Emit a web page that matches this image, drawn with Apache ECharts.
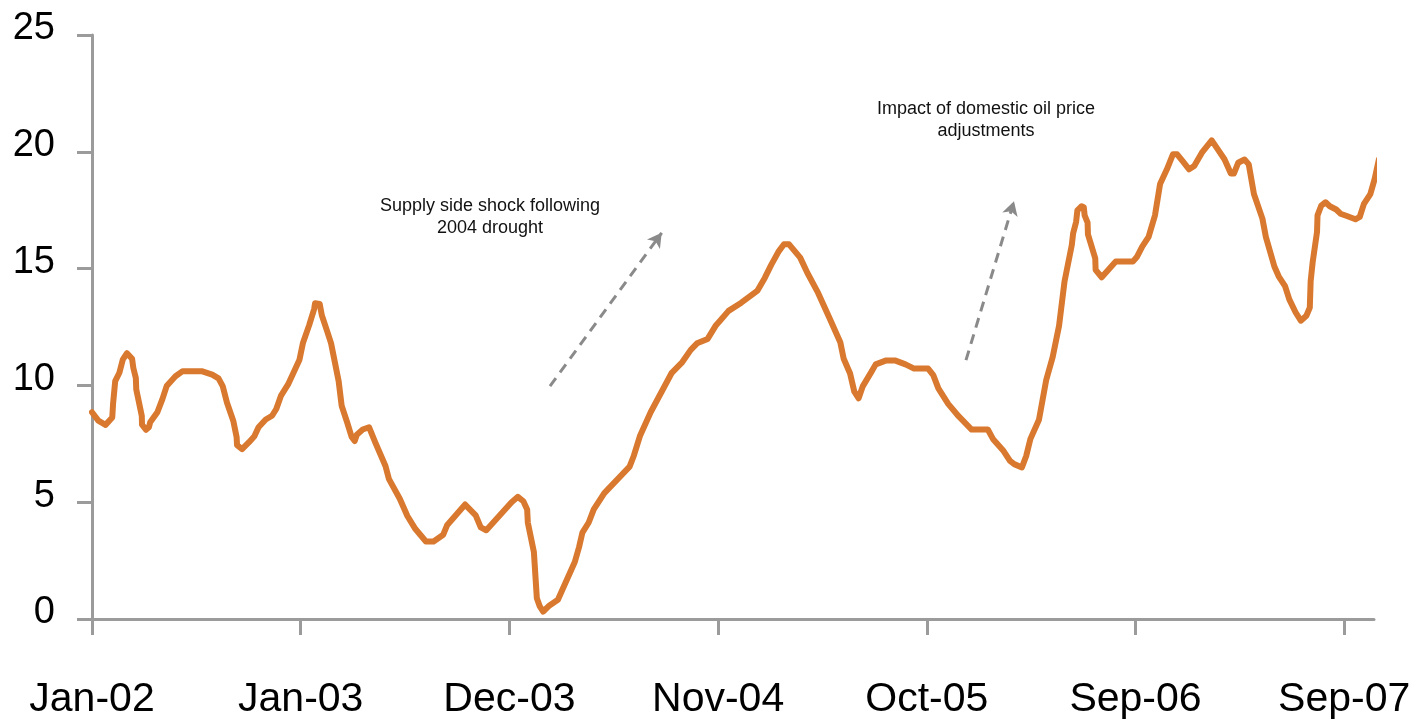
<!DOCTYPE html>
<html>
<head>
<meta charset="utf-8">
<script src="https://cdn.jsdelivr.net/npm/echarts@6/dist/echarts.min.js"></script>
<style>
  html, body { margin: 0; padding: 0; background: #fff; }
  #chart { width: 1414px; height: 720px; }
</style>
</head>
<body>
<div id="chart"></div>
<script>
// x positions in period units (34 units between consecutive date labels)
const xs = [
  0, 1.03, 2.20, 3.30, 3.43, 3.78, 4.46, 5.01, 5.70, 6.53, 6.73, 7.14, 7.21, 8.11, 8.15, 8.79, 9.27, 9.48,
  10.65, 11.47, 12.16, 13.60, 14.77, 17.86, 19.58, 20.61, 21.29, 21.98, 23.01, 23.56, 23.63, 24.45, 25.62,
  26.45, 27.13, 28.30, 29.33, 30.02, 30.77, 31.94, 33.80, 34.35, 35.38, 36.20, 36.34, 37.09, 37.44, 38.33,
  38.95, 40.18, 40.67, 41.56, 42.31, 42.79, 43.14, 44.10, 45.13, 46.16, 47.81, 48.36, 50.14, 51.38, 52.69,
  54.40, 55.64, 57.22, 57.84, 60.79, 62.51, 63.33, 64.23, 68.35, 69.38, 70.27, 70.89, 71.00, 71.99, 72.47,
  72.95, 73.50, 74.53, 75.90, 78.65, 79.34, 79.89, 80.92, 81.74, 83.46, 87.58, 88.27, 89.30, 91.01, 94.45,
  96.17, 97.54, 98.57, 100.29, 101.66,
  102.31, 103.70, 105.78, 108.42, 109.60, 110.65, 111.90, 112.73, 113.56, 115.37, 116.55, 118.29, 120.23,
  121.90, 122.46, 123.50, 124.19, 124.89, 125.58, 126.97, 127.67, 129.40, 130.79, 132.53, 133.92, 136.21,
  137.05, 137.88, 139.48, 141.21, 143.30, 145.94, 146.77, 148.51, 149.55, 150.24, 151.49, 152.19, 152.88,
  154.27, 155.45, 156.50, 157.54, 158.44, 159.62, 159.83, 160.32, 160.53, 161.22, 161.57, 161.71, 162.19,
  162.25, 163.44, 163.50, 164.49, 166.78, 169.56, 170.25, 171.09, 172.13, 173.17, 174.00, 175.11, 176.09,
  176.78, 177.68, 178.73, 179.56, 180.81, 182.41, 183.24, 184.49, 185.53, 186.02, 186.72, 187.76, 188.45,
  189.29, 190.67, 191.23, 192.62, 193.32, 194.36, 195.05, 196.09, 196.93, 197.83, 198.39, 198.53, 198.87,
  199.57, 199.65, 200.26, 200.96, 201.65, 202.69, 203.39, 204.43, 205.82, 206.52, 207.21, 208.25, 208.95,
  209.64
];
const values = [
  8.85, 8.49, 8.31, 8.63, 9.20, 10.18, 10.54, 11.10, 11.38, 11.14, 10.75, 10.32, 9.83, 8.70, 8.32, 8.10, 8.21, 8.42,
  8.85, 9.41, 9.97, 10.39, 10.61, 10.61, 10.46, 10.30, 9.97, 9.27, 8.49, 7.79, 7.44, 7.27, 7.58,
  7.82, 8.21, 8.54, 8.70, 8.99, 9.55, 10.04, 11.10, 11.80, 12.58, 13.28, 13.52, 13.49, 13.00, 12.30,
  11.80, 10.18, 9.13, 8.42, 7.79, 7.62, 7.89, 8.11, 8.21, 7.55, 6.55, 6.00, 5.15, 4.41, 3.85,
  3.32, 3.32, 3.61, 4.01, 4.90, 4.44, 3.92, 3.80, 5.00, 5.23, 5.04, 4.69, 4.13, 2.86, 0.89,
  0.54, 0.32, 0.58, 0.82, 2.44, 3.07, 3.70, 4.13, 4.69, 5.39, 6.52, 6.99, 7.86, 8.85, 10.54,
  11.00, 11.52, 11.80, 11.99, 12.58,
  12.77, 13.19, 13.54, 14.06, 14.60, 15.16, 15.75, 16.04, 16.04, 15.47, 14.81, 13.96, 12.83,
  11.85, 11.14, 10.51, 9.73, 9.45, 9.97, 10.58, 10.90, 11.07, 11.07, 10.90, 10.72, 10.72,
  10.44, 9.87, 9.21, 8.67, 8.11, 8.11, 7.71, 7.19, 6.77, 6.63, 6.49, 6.98, 7.71,
  8.53, 10.23, 11.21, 12.55, 14.46, 16.01, 16.50, 17.00, 17.49, 17.67, 17.63, 17.28, 16.97,
  16.46, 15.44, 14.95, 14.63, 15.30, 15.30, 15.51, 15.94, 16.36, 17.28, 18.62, 19.25, 19.89,
  19.89, 19.60, 19.25, 19.39, 19.96, 20.49, 20.17, 19.68, 19.07, 19.07, 19.53, 19.67, 19.46,
  18.19, 17.14, 16.36, 15.09, 14.67, 14.25, 13.68, 13.12, 12.77, 12.98, 13.33, 14.46, 15.30,
  16.57, 17.28, 17.70, 17.84, 17.67, 17.53, 17.35, 17.25, 17.11, 17.21, 17.77, 18.19, 18.83,
  19.67
];
const tickLabels = ['Jan-02', 'Jan-03', 'Dec-03', 'Nov-04', 'Oct-05', 'Sep-06', 'Sep-07'];
const labelStep = 34;
const yTicks = [0, 5, 10, 15, 20, 25];
const annotationTexts = ['Supply side shock following\n2004 drought', 'Impact of domestic oil price\nadjustments'];
// arrows: [startX, startY, endX, endY] in data units
const arrows = [
  [74.61, 9.97, 92.81, 16.53],
  [142.38, 11.08, 150.20, 17.88]
];

const FONT = "'Liberation Sans', Arial, Helvetica, sans-serif";
const AXIS_COLOR = '#9b9b9b';
const LINE_COLOR = '#D9782F';

const seriesData = xs.map((x, i) => [x, values[i]]);
const tickPositions = tickLabels.map((_, i) => i * labelStep);

const chart = echarts.init(document.getElementById('chart'), null, { renderer: 'canvas' });
chart.setOption({
  animation: false,
  backgroundColor: '#ffffff',
  grid: { left: 92, right: 40, top: 35, bottom: 100 },
  xAxis: {
    type: 'value',
    min: 0,
    max: 208.85,
    interval: labelStep,
    splitLine: { show: false },
    axisLine: { show: true, lineStyle: { color: AXIS_COLOR, width: 3 } },
    axisTick: { show: true, inside: false, length: 16, customValues: tickPositions,
                lineStyle: { color: AXIS_COLOR, width: 3 } },
    axisLabel: {
      customValues: tickPositions,
      margin: 60,
      fontFamily: FONT,
      fontSize: 41,
      color: '#000',
      formatter: v => tickLabels[Math.round(v / labelStep)] || ''
    }
  },
  yAxis: {
    type: 'value',
    min: 0,
    max: 25,
    interval: 5,
    splitLine: { show: false },
    axisLine: { show: true, lineStyle: { color: AXIS_COLOR, width: 3 } },
    axisTick: { show: true, inside: false, length: 15, lineStyle: { color: AXIS_COLOR, width: 3 } },
    axisLabel: {
      margin: 37,
      fontFamily: FONT,
      fontSize: 38,
      color: '#000',
      verticalAlign: 'bottom',
      lineHeight: 12,
      formatter: v => (yTicks.indexOf(v) >= 0 ? String(v) : '')
    }
  },
  series: [{
    type: 'line',
    data: seriesData,
    symbol: 'none',
    clip: false,
    lineStyle: { color: LINE_COLOR, width: 6, cap: 'round', join: 'round' },
    markLine: {
      silent: true,
      animation: false,
      symbol: ['none', 'arrow'],
      symbolSize: 13,
      label: { show: false },
      lineStyle: { color: '#8a8a8a', width: 3, type: [10, 7] },
      emphasis: { disabled: true },
      data: arrows.map(a => [
        { coord: [a[0], a[1]], symbol: 'none' },
        { coord: [a[2], a[3]], symbol: 'arrow', symbolSize: [12, 14] }
      ])
    }
  }],
  graphic: [
    {
      type: 'text', x: 490, y: 195, silent: true,
      style: { text: annotationTexts[0], align: 'center', verticalAlign: 'top',
               font: '18px ' + FONT, lineHeight: 22, fill: '#111' }
    },
    {
      type: 'text', x: 986, y: 98, silent: true,
      style: { text: annotationTexts[1], align: 'center', verticalAlign: 'top',
               font: '18px ' + FONT, lineHeight: 22, fill: '#111' }
    }
  ]
});
</script>
</body>
</html>
